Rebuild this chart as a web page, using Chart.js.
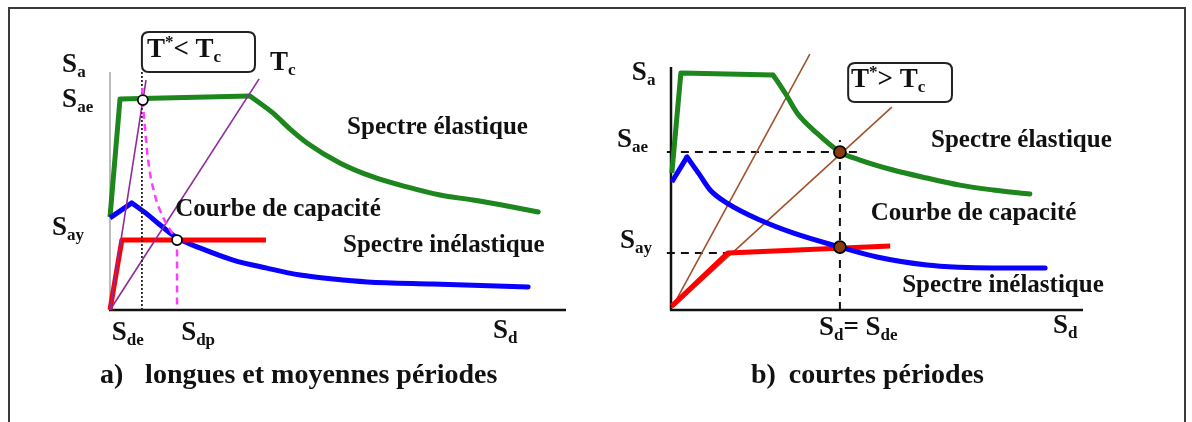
<!DOCTYPE html>
<html><head><meta charset="utf-8">
<script src="https://cdn.jsdelivr.net/npm/chart.js@4"></script>
<style>
html,body{margin:0;padding:0;background:#fff;width:1192px;height:422px;overflow:hidden}
#frame{position:absolute;left:8px;top:7px;width:1178px;height:440px;border:2px solid #3a3a3a;box-sizing:border-box}
canvas{position:absolute;top:0}
</style></head><body>
<div id="frame"></div>
<canvas id="ca" width="596" height="422" style="left:0"></canvas>
<canvas id="cb" width="596" height="422" style="left:596px"></canvas>
<script>
// ---------- DATA (Sd, Sa in arbitrary units 0..100) ----------
// a) longues et moyennes périodes
const elasticA   = [[0,39.1],[2.2,88.7],[30.7,89.9],[35.7,82.8],[39.5,76],[43.2,70.2],[50.4,61.8],[57.7,55.9],[65.1,51.7],[72.4,48.3],[79.6,46.2],[87.1,43.7],[93.9,41.2]];
const inelasticA = [[0,38.7],[4.8,45.0],[8,40.5],[11.0,35.7],[14.7,30.3],[19.7,26.1],[27.0,21.0],[34.4,17.6],[41.7,14.7],[49,13.0],[56.4,11.8],[70.8,10.9],[91.7,9.7]];
const capacityA  = [[0,0],[2.6,29.4],[34.2,29.4]];
const periodSteepA = [[0,0],[7.9,96.6]];
const periodTcA    = [[0,0],[32.7,97.1]];
const sdeLineA   = [[7.0,0],[7.0,100]];
const demandA    = [[7.1,93.3],[7.2,88.2],[7.35,83],[7.6,78],[7.85,72.5],[8.1,67.2],[8.4,62.5],[8.7,58.5],[9.0,54.8],[9.4,51.7],[9.8,48.6],[10.2,45.8],[10.7,43.2],[11.2,40.8],[11.7,38.7],[12.2,36.8],[12.7,35.1],[13.2,33.6],[13.6,32.4],[14.0,31.3],[14.4,30.2],[14.7,29.4],[14.7,2]];
const pointsA    = [[7.2,88.2],[14.7,29.4]];

// b) courtes périodes
const elasticB   = [[0.2,56.4],[2.4,97.5],[24.8,96.7],[27.8,89],[30.6,81.1],[35.4,72.8],[41.0,65.0],[45.9,61.7],[53.9,57.6],[62.1,54.3],[70.1,51.4],[78.2,49.4],[87.1,47.7]];
const inelasticB = [[0.2,52.7],[3.9,63.0],[6.8,56],[9.5,49.4],[13.6,44.0],[21.6,37.0],[29.6,31.7],[41.0,25.9],[50.0,21.8],[62.1,18.5],[70,17.6],[78.2,17.3],[90.8,17.3]];
const capacityB  = [[0.2,1.6],[13.8,23.5],[53.2,26.3]];
const periodSteepB = [[0.2,0.8],[33.7,105.3]];
const periodTB     = [[0.2,0.8],[53.6,83.5]];
const saeLineB   = [[-1,65.0],[45.4,65.0]];
const sayLineB   = [[-1,23.5],[13.8,23.5]];
const sdLineB    = [[41.0,0],[41.0,70]];
const pointsB    = [[41.0,65.0],[41.0,25.9]];

// ---------- helpers ----------
const FONT = '"Liberation Serif", "DejaVu Serif", serif';
const pts = a => a.map(p => ({x:p[0], y:p[1]}));
function line(data, color, width, order, dash){
  return {data:pts(data), showLine:true, borderColor:color, backgroundColor:color, borderWidth:width,
    pointRadius:0, tension:0, order:order, clip:false, borderDash:dash||[], borderCapStyle:'butt', borderJoinStyle:'round'};
}
function curve(data, color, width, order){
  const d = line(data, color, width, order);
  d.cubicInterpolationMode = 'monotone';
  d.tension = 0.4;
  d.borderCapStyle = 'round';
  return d;
}
// a spectrum: straight rising part up to index k, smooth descending part from k on
function spectrum(data, k, color, width, order){
  return [line(data.slice(0, k+1), color, width, order), curve(data.slice(k), color, width, order)];
}
function markers(data, fill, r, order){
  return {data:pts(data), showLine:false, pointRadius:r, pointBackgroundColor:fill, pointBorderColor:'#000',
    pointBorderWidth:1.8, order:order, clip:false};
}
function rich(ctx, segs, x, y, size){
  let cx = x;
  ctx.textBaseline = 'alphabetic'; ctx.textAlign = 'left'; ctx.fillStyle = '#111';
  for (const s of segs){
    const small = s.sub || s.sup;
    const fs = small ? Math.round(size*0.64) : size;
    const dy = s.sub ? size*0.2 : (s.sup ? -size*0.36 : 0);
    ctx.font = 'bold ' + fs + 'px ' + FONT;
    ctx.fillText(s.t, cx, y + dy);
    cx += ctx.measureText(s.t).width;
  }
}
function roundBox(ctx, x1, y1, x2, y2, r){
  ctx.beginPath();
  ctx.moveTo(x1+r,y1); ctx.lineTo(x2-r,y1); ctx.quadraticCurveTo(x2,y1,x2,y1+r);
  ctx.lineTo(x2,y2-r); ctx.quadraticCurveTo(x2,y2,x2-r,y2); ctx.lineTo(x1+r,y2);
  ctx.quadraticCurveTo(x1,y2,x1,y2-r); ctx.lineTo(x1,y1+r); ctx.quadraticCurveTo(x1,y1,x1+r,y1);
  ctx.closePath();
  ctx.fillStyle = '#fff'; ctx.fill();
  ctx.strokeStyle = '#222'; ctx.lineWidth = 2; ctx.stroke();
}

function decorPlugin(cfg){
  return {
    id:'decor',
    beforeDatasetsDraw(chart){
      const ctx = chart.ctx, xs = chart.scales.x, ys = chart.scales.y;
      const x0 = xs.getPixelForValue(0), y0 = ys.getPixelForValue(0);
      ctx.save();
      ctx.lineCap = 'butt';
      ctx.strokeStyle = cfg.yAxisColor; ctx.lineWidth = cfg.yAxisWidth;
      ctx.beginPath(); ctx.moveTo(x0, y0); ctx.lineTo(x0, ys.getPixelForValue(100)); ctx.stroke();
      ctx.strokeStyle = '#111'; ctx.lineWidth = 2.5;
      ctx.beginPath(); ctx.moveTo(x0 - 1, y0); ctx.lineTo(xs.getPixelForValue(100), y0); ctx.stroke();
      ctx.restore();
    },
    afterDraw(chart){
      const ctx = chart.ctx, xs = chart.scales.x, ys = chart.scales.y;
      const P = (X,Y) => [xs.getPixelForValue(X), ys.getPixelForValue(Y)];
      ctx.save();
      const b = cfg.box;
      const [bx1,by1] = P(b.x1,b.y1), [bx2,by2] = P(b.x2,b.y2);
      roundBox(ctx, bx1, by1, bx2, by2, 7);
      for (const L of cfg.labels){
        const [px,py] = P(L.x, L.y);
        rich(ctx, L.segs, px, py, L.size);
      }
      ctx.restore();
    }
  };
}

function makeChart(id, datasets, padding, cfg){
  return new Chart(document.getElementById(id), {
    type:'scatter',
    data:{datasets},
    options:{
      responsive:false, animation:false, events:[],
      layout:{padding},
      plugins:{legend:{display:false}, tooltip:{enabled:false}},
      scales:{
        x:{type:'linear', min:0, max:100, display:false},
        y:{type:'linear', min:0, max:100, display:false}
      }
    },
    plugins:[decorPlugin(cfg)]
  });
}

const S = 27, T = 25, C = 28;
// chart a
makeChart('ca', [
  markers(pointsA, '#fff', 5, 0),
  line(demandA, '#ff3cff', 2.5, 1, [7,5]),
  line(sdeLineA, '#222', 1.8, 2, [2,2]),
  line(periodSteepA, '#8d2a9c', 1.6, 3),
  line(periodTcA, '#8d2a9c', 1.6, 3),
  line(capacityA, '#ff0000', 5, 4),
  ...spectrum(inelasticA, 1, '#0a00ff', 5, 5),
  ...spectrum(elasticA, 2, '#1d861d', 5, 6)
], {left:110, right:30, top:72, bottom:112}, {
  yAxisColor:'#777', yAxisWidth:1,
  box:{x1:7.0, y1:116.8, x2:31.8, y2:100},
  labels:[
    {x:8.1, y:106.3, size:S, segs:[{t:'T'},{t:'*',sup:true},{t:'< T'},{t:'c',sub:true}]},
    {x:35.1, y:100.8, size:S, segs:[{t:'T'},{t:'c',sub:true}]},
    {x:-10.5, y:100, size:S, segs:[{t:'S'},{t:'a',sub:true}]},
    {x:-10.5, y:85.3, size:S, segs:[{t:'S'},{t:'ae',sub:true}]},
    {x:-12.7, y:31.5, size:S, segs:[{t:'S'},{t:'ay',sub:true}]},
    {x:0.4, y:-12.6, size:S, segs:[{t:'S'},{t:'de',sub:true}]},
    {x:15.6, y:-12.6, size:S, segs:[{t:'S'},{t:'dp',sub:true}]},
    {x:84.0, y:-11.8, size:S, segs:[{t:'S'},{t:'d',sub:true}]},
    {x:52.0, y:73.9, size:T, segs:[{t:'Spectre élastique'}]},
    {x:14.3, y:39.5, size:T, segs:[{t:'Courbe de capacité'}]},
    {x:51.1, y:24.4, size:T, segs:[{t:'Spectre inélastique'}]},
    {x:-2.2, y:-30.7, size:C, segs:[{t:'a)'}]},
    {x:7.7, y:-30.7, size:C, segs:[{t:'longues et moyennes périodes'}]}
  ]
});

// chart b
makeChart('cb', [
  markers(pointsB, '#8a3a14', 6, 0),
  ...spectrum(elasticB, 2, '#1d861d', 5, 1),
  ...spectrum(inelasticB, 1, '#0a00ff', 5, 2),
  line(capacityB, '#ff0000', 5, 3),
  line(periodSteepB, '#a0522d', 1.6, 4),
  line(periodTB, '#a0522d', 1.6, 4),
  line(saeLineB, '#111', 2, 5, [8,6]),
  line(sayLineB, '#111', 2, 5, [8,6]),
  line(sdLineB, '#111', 2, 5, [8,6])
], {left:75, right:109, top:67, bottom:112}, {
  yAxisColor:'#111', yAxisWidth:2.5,
  box:{x1:43.0, y1:101.6, x2:68.2, y2:85.6},
  labels:[
    {x:43.7, y:91.8, size:S, segs:[{t:'T'},{t:'*',sup:true},{t:'> T'},{t:'c',sub:true}]},
    {x:-9.5, y:94.7, size:S, segs:[{t:'S'},{t:'a',sub:true}]},
    {x:-13.1, y:67.1, size:S, segs:[{t:'S'},{t:'ae',sub:true}]},
    {x:-12.4, y:25.5, size:S, segs:[{t:'S'},{t:'ay',sub:true}]},
    {x:35.9, y:-10.3, size:S, segs:[{t:'S'},{t:'d',sub:true},{t:'= S'},{t:'de',sub:true}]},
    {x:92.7, y:-9.5, size:S, segs:[{t:'S'},{t:'d',sub:true}]},
    {x:63.1, y:67.1, size:T, segs:[{t:'Spectre élastique'}]},
    {x:48.5, y:37.0, size:T, segs:[{t:'Courbe de capacité'}]},
    {x:56.1, y:7.4, size:T, segs:[{t:'Spectre inélastique'}]},
    {x:19.4, y:-30.0, size:C, segs:[{t:'b)'}]},
    {x:28.6, y:-30.0, size:C, segs:[{t:'courtes périodes'}]}
  ]
});
</script>
</body></html>
